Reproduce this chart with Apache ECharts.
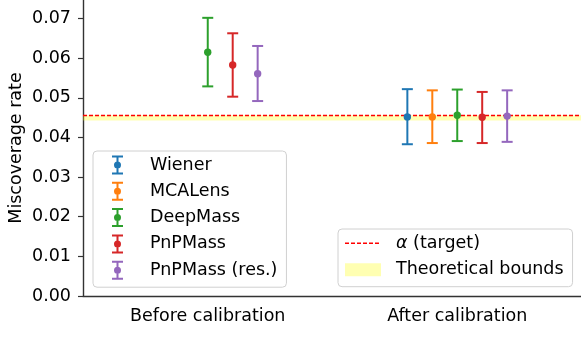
<!DOCTYPE html>
<html>
<head>
<meta charset="utf-8">
<script src="https://cdn.jsdelivr.net/npm/echarts@6/dist/echarts.min.js"></script>
<style>
  html, body { margin: 0; padding: 0; background: #fff; }
  #main { width: 581px; height: 338px; }
</style>
</head>
<body>
<div id="main"></div>
<script>
// 数据
var categories = ['Before calibration', 'After calibration'];
var methods = ['Wiener', 'MCALens', 'DeepMass', 'PnPMass', 'PnPMass (res.)'];
var colors = ['#1f77b4', '#ff7f0e', '#2ca02c', '#d62728', '#9467bd'];
var offsets = [-0.2, -0.1, 0, 0.1, 0.2];

var wienerMean = [null, 0.0452];
var wienerLow = [null, 0.0383];
var wienerHigh = [null, 0.0522];
var mcalensMean = [null, 0.0452];
var mcalensLow = [null, 0.0386];
var mcalensHigh = [null, 0.0519];
var deepmassMean = [0.0615, 0.0456];
var deepmassLow = [0.0529, 0.0391];
var deepmassHigh = [0.0702, 0.0521];
var pnpmassMean = [0.0583, 0.0451];
var pnpmassLow = [0.0503, 0.0386];
var pnpmassHigh = [0.0663, 0.0515];
var pnpresMean = [0.0561, 0.0454];
var pnpresLow = [0.0492, 0.0389];
var pnpresHigh = [0.0631, 0.0519];

var alpha = 0.0455;
var boundsLow = 0.0443;
var boundsHigh = 0.0456;
var yTicks = [0, 0.01, 0.02, 0.03, 0.04, 0.05, 0.06, 0.07];

var means = [wienerMean, mcalensMean, deepmassMean, pnpmassMean, pnpresMean];
var lows = [wienerLow, mcalensLow, deepmassLow, pnpmassLow, pnpresLow];
var highs = [wienerHigh, mcalensHigh, deepmassHigh, pnpmassHigh, pnpresHigh];

var FONT = 'DejaVu Sans';
var FS = 17.5;

// 误差棒图例图标
var errIcon = 'path://M0,0h11v2h-11z M4.5,2h2v15h-2z M0,17h11v2h-11z M5.5,6a3.5,3.5 0 0 1 0,7a3.5,3.5 0 0 1 0,-7z';
var dashIcon = 'path://M0,5h4v1.4h-4z M6,5h4v1.4h-4z M12,5h4v1.4h-4z M18,5h4v1.4h-4z M24,5h4v1.4h-4z M30,5h4v1.4h-4z M0,0h0.01v0.01h-0.01z M36,11h0.01v0.01h-0.01z';

function buildErrSeries(k) {
  var data = [];
  for (var i = 0; i < categories.length; i++) {
    if (means[k][i] == null) continue;
    data.push([i, means[k][i], lows[k][i], highs[k][i]]);
  }
  return {
    name: methods[k],
    type: 'custom',
    z: 5,
    itemStyle: { color: colors[k] },
    data: data,
    renderItem: function (params, api) {
      var band = api.size([1, 0])[0];
      var dx = offsets[k] * band;
      var c = api.coord([api.value(0), api.value(1)]);
      var lo = api.coord([api.value(0), api.value(2)]);
      var hi = api.coord([api.value(0), api.value(3)]);
      var x = c[0] + dx;
      var st = { stroke: colors[k], lineWidth: 2 };
      return {
        type: 'group',
        children: [
          { type: 'line', shape: { x1: x, y1: lo[1], x2: x, y2: hi[1] }, style: st },
          { type: 'line', shape: { x1: x - 5.5, y1: lo[1], x2: x + 5.5, y2: lo[1] }, style: st },
          { type: 'line', shape: { x1: x - 5.5, y1: hi[1], x2: x + 5.5, y2: hi[1] }, style: st },
          { type: 'circle', shape: { cx: x, cy: c[1], r: 3.7 }, style: { fill: colors[k] } }
        ]
      };
    }
  };
}

var series = [];
for (var k = 0; k < methods.length; k++) series.push(buildErrSeries(k));

series.push({
  name: 'Theoretical bounds',
  type: 'line',
  data: [],
  z: 1,
  itemStyle: { color: 'rgba(255,255,0,0.3)' },
  markArea: {
    silent: true,
    itemStyle: { color: 'rgba(255,255,0,0.3)' },
    data: [[{ yAxis: boundsLow }, { yAxis: boundsHigh }]]
  }
});
series.push({
  name: 'alpha',
  type: 'line',
  data: [],
  z: 2,
  itemStyle: { color: '#ff0000' },
  markLine: {
    silent: true,
    symbol: 'none',
    precision: 5,
    label: { show: false },
    lineStyle: { color: '#ff0000', type: [4, 2], width: 1.3 },
    data: [{ yAxis: alpha }]
  }
});

var myChart = echarts.init(document.getElementById('main'), null, { renderer: 'canvas' });

var option = {
  animation: false,
  textStyle: { fontFamily: FONT },
  grid: { left: 83, right: -1, top: 0, bottom: 42, containLabel: false, outerBoundsMode: 'none' },
  xAxis: {
    type: 'category',
    data: categories,
    boundaryGap: true,
    axisLine: { lineStyle: { color: '#333', width: 1.4 } },
    axisTick: { alignWithLabel: true, length: 5, lineStyle: { color: '#333', width: 1.2 } },
    axisLabel: { color: '#000', fontSize: FS, fontFamily: FONT, margin: 11 },
    splitLine: { show: false }
  },
  yAxis: {
    type: 'value',
    min: 0,
    max: 0.0747,
    name: 'Miscoverage rate',
    nameLocation: 'middle',
    nameGap: 58,
    nameMoveOverlap: false,
    nameTextStyle: { color: '#000', fontSize: FS, fontFamily: FONT },
    axisLine: { show: true, lineStyle: { color: '#333', width: 1.4 } },
    axisTick: { show: true, length: 5, customValues: yTicks, lineStyle: { color: '#333', width: 1.2 } },
    axisLabel: {
      color: '#000', fontSize: FS, fontFamily: FONT, margin: 12,
      customValues: yTicks,
      formatter: function (v) { return v.toFixed(2); }
    },
    splitLine: { show: false }
  },
  legend: [{
    data: methods.map(function (m) { return { name: m, icon: errIcon }; }),
    orient: 'vertical',
    left: 93,
    top: 151,
    itemWidth: 11,
    itemHeight: 19,
    itemGap: 6.3,
    padding: [4, 9, 7, 19],
    backgroundColor: 'rgba(255,255,255,0.8)',
    borderColor: '#d0d0d0',
    borderWidth: 1,
    borderRadius: 4,
    selectedMode: false,
    textStyle: { color: '#000', fontSize: FS, fontFamily: FONT, lineHeight: 20, padding: [0, 0, 0, 22] }
  }, {
    data: [{ name: 'alpha', icon: dashIcon }, { name: 'Theoretical bounds', icon: 'rect' }],
    orient: 'vertical',
    left: 338,
    top: 229,
    itemWidth: 36,
    itemHeight: 13,
    itemGap: 6.7,
    padding: [4, 9, 7, 7],
    backgroundColor: 'rgba(255,255,255,0.8)',
    borderColor: '#d0d0d0',
    borderWidth: 1,
    borderRadius: 4,
    selectedMode: false,
    formatter: function (name) {
      return name === 'alpha' ? '{a|α} (target)' : name;
    },
    textStyle: {
      color: '#000', fontSize: FS, fontFamily: FONT, lineHeight: 20, padding: [0, 0, 0, 10],
      rich: { a: { fontStyle: 'italic', fontSize: FS, fontFamily: FONT, color: '#000', lineHeight: 20 } }
    }
  }],
  series: series
};

myChart.setOption(option);
</script>
</body>
</html>
